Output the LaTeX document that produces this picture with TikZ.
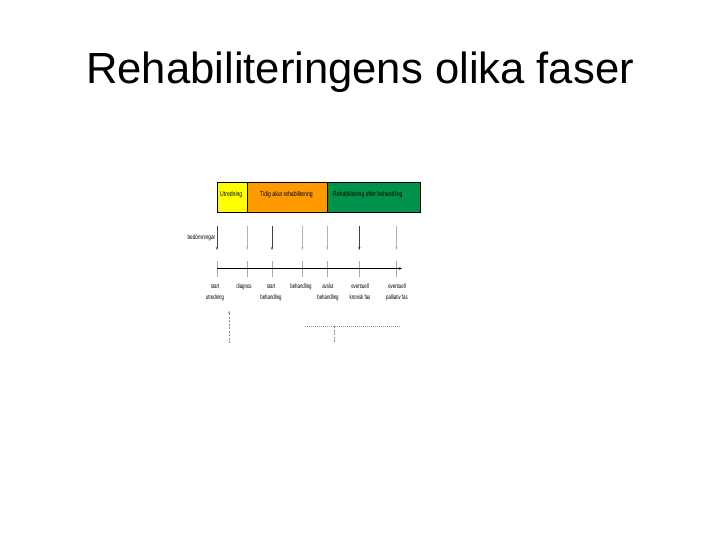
\documentclass[tikz,border=0pt]{standalone}
\usepackage{fontspec}
\setmainfont{Liberation Sans}
\usetikzlibrary{arrows.meta}
\definecolor{phyellow}{HTML}{FFFF00}
\definecolor{phorange}{HTML}{FF9900}
\definecolor{phgreen}{HTML}{00924A}
\newcommand{\twoline}[2]{\scalebox{0.66}[1]{\begin{tabular}{@{}c@{}}#1\\#2\end{tabular}}}
\newcommand{\oneline}[1]{\scalebox{0.66}[1]{\begin{tabular}{@{}c@{}}#1\end{tabular}}}
\newcommand{\narrowtxt}[1]{\scalebox{0.74}[1]{#1}}
\begin{document}
\begin{tikzpicture}[x=1pt,y=-1pt,
  phase/.style={draw=black, line width=0.6pt, minimum height=30.4pt, anchor=north west, inner sep=0pt, outer sep=0pt},
  phaselbl/.style={anchor=west, inner sep=0pt, font=\fontsize{6.9}{7.5}\selectfont},
  tickarrow/.style={-{Stealth[length=3pt,width=2.2pt]}, line width=0.5pt},
  darktick/.style={tickarrow, draw=black!75},
  lighttick/.style={tickarrow, draw=black!30},
  ticklow/.style={line width=0.5pt, draw=black!35},
  axisline/.style={-{Stealth[length=3pt,width=2.4pt]}, line width=0.7pt, draw=black},
  ticklbl/.style={anchor=north, inner sep=0pt, font=\fontsize{6.6}{10.5}\selectfont},
  faint/.style={line width=0.45pt, draw=black!45, dash pattern=on 2pt off 1.5pt}
]
\useasboundingbox[fill=white] (0,0) rectangle (720,540);

% title
\node[anchor=base west, inner sep=0pt, font=\fontsize{43.6}{50}\selectfont] (title) at (86,83.3) {Rehabiliteringens olika faser};

% phase bar
\node[phase, fill=phyellow, minimum width=30.3pt] (utr) at (217,182.3) {};
\node[phase, fill=phorange, minimum width=80pt] (tidig) at (247.3,182.3) {};
\node[phase, fill=phgreen, minimum width=92.7pt] (efter) at (327.3,182.3) {};
\node[phaselbl] (utrl) at (220,195) {\narrowtxt{Utredning}};
\node[phaselbl] (tidigl) at (260,195) {\narrowtxt{Tidig akut rehabilitering}};
\node[phaselbl] (efterl) at (333,195) {\narrowtxt{Rehabilitering efter behandling}};

% assessments label
\node[anchor=east, inner sep=0pt, font=\fontsize{6.6}{7}\selectfont] (bed) at (215.5,237.7) {\scalebox{0.72}[1]{bedömningar}};

% assessment arrows
\foreach \n/\x/\s in {1/217/darktick, 2/247/lighttick, 3/272/darktick, 4/302.3/lighttick, 5/327.3/lighttick, 6/359.3/darktick, 7/396.5/lighttick} {
  \coordinate (a\n) at (\x,226);
  \coordinate (b\n) at (\x,250);
  \coordinate (c\n) at (\x,261);
  \coordinate (d\n) at (\x,277);
  \draw[\s] (a\n) -- (b\n);
  \draw[ticklow] (c\n) -- (d\n);
}

% time axis
\coordinate (axs) at (217,268.5);
\coordinate (axe) at (402,268.5);
\draw[axisline] (axs) -- (axe);

% tick labels
\node[ticklbl] (l1) at (215,281) {\twoline{start}{utredning}};
\node[ticklbl] (l2) at (244,281) {\oneline{diagnos}};
\node[ticklbl] (l3) at (271,281) {\twoline{start}{behandling}};
\node[ticklbl] (l4) at (301,281) {\oneline{behandling}};
\node[ticklbl] (l5) at (328,281) {\twoline{avslut}{behandling}};
\node[ticklbl] (l6) at (360,281) {\twoline{eventuell}{kronisk fas}};
\node[ticklbl] (l7) at (397,281) {\twoline{eventuell}{palliativ fas}};

% lower dashed marks
\coordinate (up1) at (229.3,343);
\coordinate (up2) at (229.3,311);
\draw[faint, -{Stealth[length=2.5pt,width=2.2pt]}] (up1) -- (up2);
\coordinate (h1) at (305,326);
\coordinate (h2) at (400,326);
\coordinate (hm) at (334,326);
\coordinate (hb) at (334,343);
\draw[line width=0.45pt, draw=black!40, dash pattern=on 1pt off 1pt] (h1) -- (h2);
\draw[faint] (hm) -- (hb);
\end{tikzpicture}
\end{document}
